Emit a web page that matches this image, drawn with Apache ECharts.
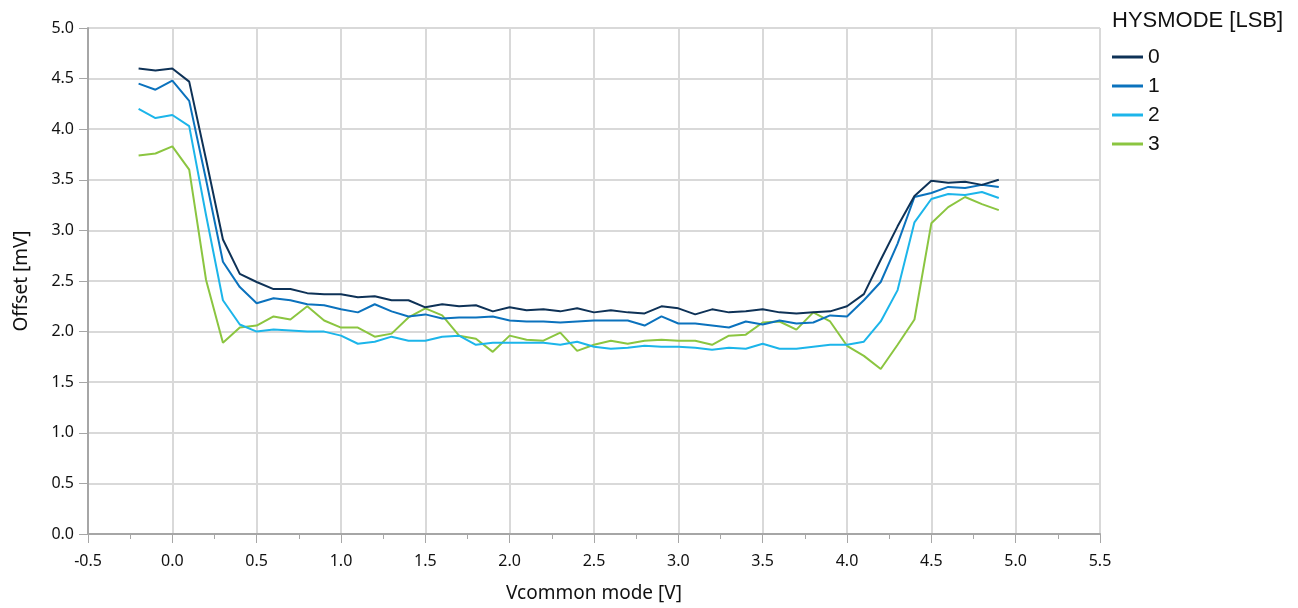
<!DOCTYPE html>
<html>
<head>
<meta charset="utf-8">
<script src="https://cdn.jsdelivr.net/npm/echarts@6/dist/echarts.min.js"></script>
<style>
html,body{margin:0;padding:0;background:#fff;}
#chart{width:1298px;height:608px;}
</style>
</head>
<body>
<div id="chart"></div>
<script>
const vcm = [-0.2,-0.1,0.0,0.1,0.2,0.3,0.4,0.5,0.6,0.7,0.8,0.9,1.0,1.1,1.2,1.3,1.4,1.5,1.6,1.7,1.8,1.9,2.0,2.1,2.2,2.3,2.4,2.5,2.6,2.7,2.8,2.9,3.0,3.1,3.2,3.3,3.4,3.5,3.6,3.7,3.8,3.9,4.0,4.1,4.2,4.3,4.4,4.5,4.6,4.7,4.8,4.9];

const hys0 = [4.60,4.58,4.60,4.47,3.70,2.91,2.57,2.49,2.42,2.42,2.38,2.37,2.37,2.34,2.35,2.31,2.31,2.24,2.27,2.25,2.26,2.20,2.24,2.21,2.22,2.20,2.23,2.19,2.21,2.19,2.18,2.25,2.23,2.17,2.22,2.19,2.20,2.22,2.19,2.18,2.19,2.20,2.25,2.37,2.71,3.04,3.34,3.49,3.47,3.48,3.45,3.50];
const hys1 = [4.45,4.39,4.48,4.28,3.50,2.69,2.44,2.28,2.33,2.31,2.27,2.26,2.22,2.19,2.27,2.20,2.15,2.17,2.13,2.14,2.14,2.15,2.11,2.10,2.10,2.09,2.10,2.11,2.11,2.11,2.06,2.15,2.08,2.08,2.06,2.04,2.10,2.07,2.11,2.08,2.09,2.16,2.15,2.31,2.49,2.87,3.33,3.37,3.43,3.42,3.45,3.43];
const hys2 = [4.20,4.11,4.14,4.03,3.15,2.31,2.07,2.00,2.02,2.01,2.00,2.00,1.96,1.88,1.90,1.95,1.91,1.91,1.95,1.96,1.87,1.89,1.89,1.89,1.89,1.87,1.90,1.85,1.83,1.84,1.86,1.85,1.85,1.84,1.82,1.84,1.83,1.88,1.83,1.83,1.85,1.87,1.87,1.90,2.10,2.41,3.08,3.31,3.36,3.35,3.38,3.32];
const hys3 = [3.74,3.76,3.83,3.60,2.51,1.89,2.04,2.06,2.15,2.12,2.25,2.11,2.04,2.04,1.95,1.98,2.14,2.23,2.16,1.96,1.93,1.80,1.96,1.92,1.91,1.99,1.81,1.87,1.91,1.88,1.91,1.92,1.91,1.91,1.87,1.96,1.97,2.09,2.10,2.02,2.19,2.10,1.86,1.76,1.63,1.87,2.12,3.07,3.23,3.33,3.26,3.20];

const seriesNames = ['0','1','2','3'];
const seriesColors = ['#0e3257','#0b72bd','#1cb5ea','#8bc540'];
const seriesData = [hys0, hys1, hys2, hys3];

const chart = echarts.init(document.getElementById('chart'), null, {renderer:'canvas'});

const axisFont = '"Noto Sans", "Open Sans", sans-serif';
const legendFont = '"Liberation Sans", Arial, sans-serif';

chart.setOption({
  animation: false,
  backgroundColor: '#ffffff',
  title: {
    text: 'HYSMODE [LSB]',
    left: 1112,
    top: 10,
    padding: 0,
    textStyle: {fontFamily: legendFont, fontSize: 22, fontWeight: 'normal', color: '#111'}
  },
  legend: {
    orient: 'vertical',
    left: 1112,
    top: 46,
    padding: 0,
    icon: 'rect',
    itemWidth: 31,
    itemHeight: 3,
    itemGap: 7,
    textStyle: {fontFamily: legendFont, fontSize: 21, color: '#111', lineHeight: 22},
    data: seriesNames
  },
  grid: {left: 88, right: 198, top: 28, bottom: 73, containLabel: false},
  xAxis: {
    type: 'value',
    min: -0.5, max: 5.5, interval: 0.5,
    name: 'Vcommon mode [V]',
    nameLocation: 'middle',
    nameGap: 50,
    nameTextStyle: {fontFamily: axisFont, fontSize: 19, color: '#111'},
    axisLine: {show: true, onZero: false, lineStyle: {color: '#a6a6a6', width: 2}},
    axisTick: {show: true, length: 9, lineStyle: {color: '#a6a6a6', width: 1}},
    minorTick: {show: true, splitNumber: 2, length: 5, lineStyle: {color: '#a6a6a6', width: 1}},
    axisLabel: {fontFamily: axisFont, fontSize: 16, color: '#111', margin: 19, formatter: v => v.toFixed(1)},
    splitLine: {show: true, lineStyle: {color: '#d9d9d9', width: 2}}
  },
  yAxis: {
    type: 'value',
    min: 0, max: 5, interval: 0.5,
    name: 'Offset [mV]',
    nameLocation: 'middle',
    nameGap: 57,
    nameTextStyle: {fontFamily: axisFont, fontSize: 19, color: '#111'},
    axisLine: {show: true, onZero: false, lineStyle: {color: '#a6a6a6', width: 2}},
    axisTick: {show: true, length: 9, lineStyle: {color: '#a6a6a6', width: 1}},
    axisLabel: {fontFamily: axisFont, fontSize: 16, color: '#111', margin: 14, formatter: v => v.toFixed(1)},
    splitLine: {show: true, lineStyle: {color: '#d9d9d9', width: 2}}
  },
  series: seriesNames.map((n, i) => ({
    name: n,
    type: 'line',
    data: vcm.map((x, k) => [x, seriesData[i][k]]),
    showSymbol: false,
    symbol: 'none',
    color: seriesColors[i],
    lineStyle: {color: seriesColors[i], width: 2},
    itemStyle: {color: seriesColors[i]},
    z: 10 - i
  }))
});
</script>
</body>
</html>
